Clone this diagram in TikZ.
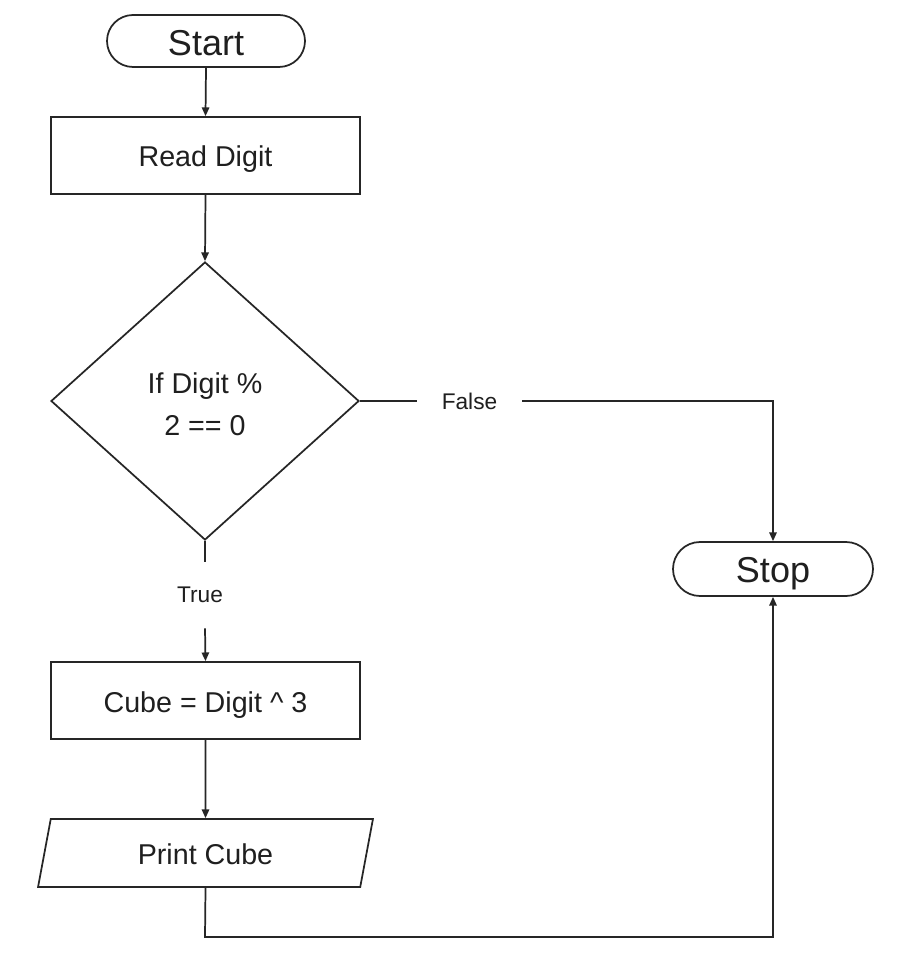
\documentclass[tikz,border=0pt]{standalone}
\usepackage{fontspec}
\setmainfont{Liberation Sans}
\usetikzlibrary{shapes.geometric,shapes.misc,arrows.meta}
\newcommand{\lowertext}[2]{\raisebox{-#1}[\height][\depth]{#2}}
\begin{document}
\begin{tikzpicture}[x=0.75pt,y=-0.75pt,
  every node/.style={inner sep=0pt, text=black!88},
  base/.style={draw=black!85, line width=1.3pt},
  term/.style={base, rounded rectangle, font=\fontsize{27}{32}\selectfont},
  proc/.style={base, rectangle, minimum width=231.75pt, minimum height=57.75pt, font=\fontsize{21.5}{26}\selectfont},
  dec/.style={base, diamond, aspect=1.1, minimum width=231pt, minimum height=208.5pt, align=center, font=\fontsize{21.5}{32}\selectfont},
  io/.style={base, trapezium, trapezium left angle=75.2, trapezium right angle=104.8, trapezium stretches=true, minimum width=251.25pt, minimum height=51pt, font=\fontsize{21.5}{26}\selectfont},
  lbl/.style={font=\fontsize{17}{20}\selectfont},
  conn/.style={draw=black!85, line width=1.3pt},
  arr/.style={conn, -{Triangle[length=6.5pt,width=5.5pt]}}]
\useasboundingbox[fill=white] (0,0) rectangle (910,969);
\node[term, minimum width=148.5pt, minimum height=39pt] (start) at (206,41) {\lowertext{1.5pt}{Start}};
\node[proc] (read) at (205.5,155.5) {\lowertext{3pt}{Read Digit}};
\node[dec] (cond) at (205,401) {\lowertext{2.5pt}{If Digit \%}\\\lowertext{2.5pt}{2 == 0}};
\node[lbl, minimum width=78.75pt] (false) at (469.5,401) {False};
\node[term, minimum width=150pt, minimum height=40.5pt] (stop) at (773,569) {\lowertext{3.5pt}{Stop}};
\node[lbl, minimum height=49.5pt] (true) at (200,595) {True};
\node[proc] (cube) at (205.5,700.5) {\lowertext{3.5pt}{Cube = Digit \textasciicircum\ 3}};
\node[io] (print) at (205.5,853) {\lowertext{1pt}{Print Cube}};
\coordinate (corner) at (205,937);

\draw[arr] (start.south) -- (read.north);
\draw[arr] (read.south) -- (cond.north);
\draw[conn] (cond.east) -- (false.west);
\draw[arr] (false.east) -| (stop.north);
\draw[conn] (cond.south) -- (cond.south |- true.north);
\draw[arr] (cond.south |- true.south) -- (cube.north);
\draw[arr] (cube.south) -- (print.north);
\draw[arr] (print.south) -- (corner) -| (stop.south);
\end{tikzpicture}
\end{document}
